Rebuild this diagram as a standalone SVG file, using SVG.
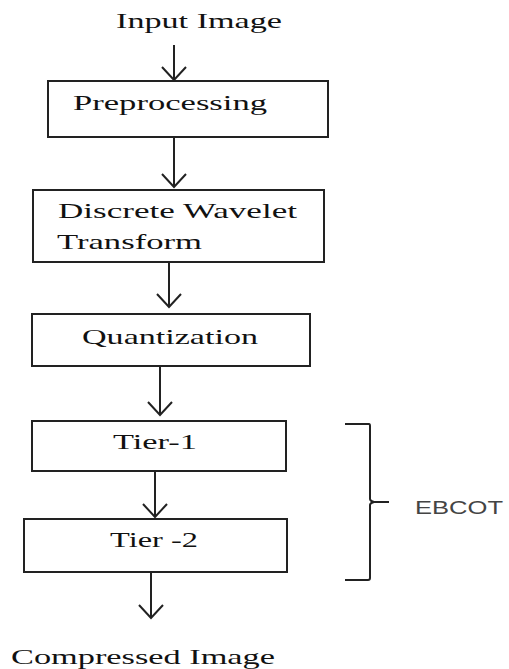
<svg xmlns="http://www.w3.org/2000/svg" width="509" height="669" viewBox="0 0 509 669">
<style>
.box{fill:#fff;stroke:#222;stroke-width:2}
.t{font-family:"Liberation Serif","Times New Roman",serif;font-size:22px;fill:#111}
.c{fill:none;stroke:#222;stroke-width:2}
.s{font-family:"Liberation Sans",Arial,sans-serif;font-size:19px;fill:#444}
</style>
<rect width="509" height="669" fill="#fff"/>
<g id="input"><text class="t" x="116" y="28" textLength="166" lengthAdjust="spacingAndGlyphs">Input Image</text></g>
<g id="preprocessing"><rect class="box" x="48" y="81" width="280" height="56"/><text class="t" x="73" y="110" textLength="194" lengthAdjust="spacingAndGlyphs">Preprocessing</text></g>
<g id="dwt"><rect class="box" x="33" y="190" width="291" height="72"/><text class="t" x="58" y="218" textLength="239" lengthAdjust="spacingAndGlyphs">Discrete Wavelet</text><text class="t" x="57" y="249" textLength="145" lengthAdjust="spacingAndGlyphs">Transform</text></g>
<g id="quantization"><rect class="box" x="32" y="314" width="278" height="52"/><text class="t" x="82" y="344" textLength="176" lengthAdjust="spacingAndGlyphs">Quantization</text></g>
<g id="tier1"><rect class="box" x="32" y="421" width="254" height="50"/><text class="t" x="113" y="449" textLength="84" lengthAdjust="spacingAndGlyphs">Tier-1</text></g>
<g id="tier2"><rect class="box" x="24" y="519" width="263" height="53"/><text class="t" x="110" y="547" textLength="88" lengthAdjust="spacingAndGlyphs">Tier -2</text></g>
<g id="output"><text class="t" x="11" y="664" textLength="264" lengthAdjust="spacingAndGlyphs">Compressed Image</text></g>
<g id="ebcot"><path class="c" d="M345 424 H369 Q370 424 370 426 V499 Q370 501 374 502 H389 M374 502 Q370 503 370 505 V578 Q370 580 368 580 H345"/><text class="s" x="415" y="514" textLength="88" lengthAdjust="spacingAndGlyphs">EBCOT</text></g>
<g id="connectors">
<path class="c" d="M174 45 V80 M162 67 L174 80 L186 67"/>
<path class="c" d="M174 137 V187 M162 174 L174 187 L186 174"/>
<path class="c" d="M169 262 V307 M157 294 L169 307 L181 294"/>
<path class="c" d="M160 366 V415 M148 402 L160 415 L172 402"/>
<path class="c" d="M155 471 V517 M143 504 L155 517 L167 504"/>
<path class="c" d="M151 572 V618 M139 605 L151 618 L163 605"/>
</g>
</svg>
